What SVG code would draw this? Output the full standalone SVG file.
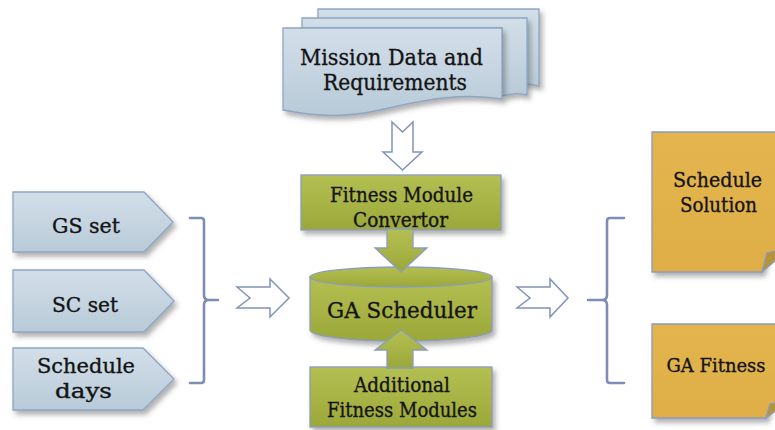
<svg xmlns="http://www.w3.org/2000/svg" width="775" height="430" viewBox="0 0 775 430">
<defs>
<linearGradient id="gBlue" x1="0" y1="0" x2="0" y2="1">
<stop offset="0" stop-color="#d2dfe9"/><stop offset="1" stop-color="#b8cad8"/>
</linearGradient>
<linearGradient id="gGreen" x1="0" y1="0" x2="0" y2="1">
<stop offset="0" stop-color="#b3bf52"/><stop offset="0.5" stop-color="#a8b445"/><stop offset="1" stop-color="#9aa739"/>
</linearGradient>
<linearGradient id="gGold" x1="0" y1="0" x2="0" y2="1">
<stop offset="0" stop-color="#e4b54f"/><stop offset="1" stop-color="#dfae46"/>
</linearGradient>
<filter id="sh" x="-10%" y="-10%" width="125%" height="135%">
<feDropShadow dx="3" dy="4" stdDeviation="2.5" flood-color="#555" flood-opacity="0.45"/>
</filter>
</defs>
<style>
.blue{fill:url(#gBlue);stroke:#8ea5c3;stroke-width:1.3}
.green{fill:url(#gGreen);stroke:#8c9cbf;stroke-width:1.3}
.gold{fill:url(#gGold);stroke:#8a9ac0;stroke-width:1.3}
.fold{fill:#b59337;stroke:#8a9ac0;stroke-width:1.2}
.open{fill:#ffffff;stroke:#8093ba;stroke-width:1.5}
.brace{fill:none;stroke:#7d8db5;stroke-width:2.6;stroke-linecap:round;stroke-linejoin:round}
text{font-family:"DejaVu Serif","Liberation Serif",serif;fill:#141414;stroke:#141414;stroke-width:0.35;text-anchor:middle}
.t{font-size:20.5px}
.s{font-size:19px}
.big{font-size:23px}
</style>
<rect width="775" height="430" fill="#ffffff"/>

<g id="mission">
<path class="blue" filter="url(#sh)" d="M318,9 H539 V86 C520,82 525,84 518,85 V30 H318 Z"/>
<path class="blue" filter="url(#sh)" d="M302,18 H527 V95 C518,93 515,93 502,96 V28 H302 Z"/>
<path class="blue" filter="url(#sh)" d="M283,28 H502 V99 C465,93 430,98 380,110 C340,119 310,115 283,110 Z"/>
<text class="big" x="391.5" y="65" textLength="183" lengthAdjust="spacingAndGlyphs">Mission Data and</text>
<text class="big" x="395" y="90" textLength="144" lengthAdjust="spacingAndGlyphs">Requirements</text>
</g>

<g id="gs-set">
<polygon class="blue" filter="url(#sh)" points="13,192 144,192 173,222 144,252 13,252"/>
<text class="t" x="86" y="233" textLength="68" lengthAdjust="spacingAndGlyphs">GS set</text>
</g>
<g id="sc-set">
<polygon class="blue" filter="url(#sh)" points="13,270 144,270 174,301 144,332 13,332"/>
<text class="t" x="85" y="312" textLength="66" lengthAdjust="spacingAndGlyphs">SC set</text>
</g>
<g id="schedule-days">
<polygon class="blue" filter="url(#sh)" points="13,348 143,348 174,379 143,410 13,410"/>
<text class="t" x="86" y="373" textLength="98" lengthAdjust="spacingAndGlyphs">Schedule</text>
<text class="t" x="83.5" y="398" textLength="57" lengthAdjust="spacingAndGlyphs">days</text>
</g>

<g id="fitness-convertor">
<rect class="green" filter="url(#sh)" x="301" y="175" width="200" height="55"/>
<text class="t" x="401.5" y="202" textLength="143" lengthAdjust="spacingAndGlyphs">Fitness Module</text>
<text class="t" x="400.5" y="227" textLength="95" lengthAdjust="spacingAndGlyphs">Convertor</text>
</g>

<g id="ga-scheduler">
<path class="green" filter="url(#sh)" d="M310,277 V330 A91,11 0 0 0 492,330 V277 Z"/>
<ellipse class="green" cx="401" cy="277" rx="91" ry="10"/>
<text class="big" x="402" y="318" textLength="150" lengthAdjust="spacingAndGlyphs">GA Scheduler</text>
</g>

<g id="additional-fitness">
<rect class="green" filter="url(#sh)" x="310" y="367" width="182" height="60"/>
<text class="t" x="402" y="392" textLength="96" lengthAdjust="spacingAndGlyphs">Additional</text>
<text class="t" x="402" y="417" textLength="150" lengthAdjust="spacingAndGlyphs">Fitness Modules</text>
</g>

<g id="schedule-solution">
<path class="gold" filter="url(#sh)" d="M652,132 H790 V248 L767,253 L762,272 H652 Z"/>
<polygon class="fold" points="762,272 767,253 790,248"/>
<text class="t" x="717.5" y="187" textLength="89" lengthAdjust="spacingAndGlyphs">Schedule</text>
<text class="t" x="718.5" y="212" textLength="77" lengthAdjust="spacingAndGlyphs">Solution</text>
</g>

<g id="ga-fitness">
<path class="gold" filter="url(#sh)" d="M652,324 H790 V400 L770,404 L766,418 H652 Z"/>
<polygon class="fold" points="766,418 770,404 790,400"/>
<text class="s" x="716" y="372" textLength="99" lengthAdjust="spacingAndGlyphs">GA Fitness</text>
</g>

<g id="connectors">
<polygon class="open" points="392,122 402.5,132 413,122 413,152 422,152 402.5,170 383,152 392,152"/>
<polygon class="open" points="237,287 250,298 237,308 270,308 270,317 289,298 270,279 270,287"/>
<polygon class="open" points="517,287 530,298 517,308 550,308 550,317 568,298 550,279 550,287"/>
<polygon class="green" points="387,229 413,229 413,248 427,248 401,272 375,248 387,248"/>
<polygon class="green" points="387,368 413,368 413,350 427,350 401,330 375,350 387,350"/>
<path class="brace" d="M190,218 H201 Q204,218 204,221 V295 Q204,300 209,300 H218 M209,300 Q204,300 204,305 V380 Q204,383 201,383 H190"/>
<path class="brace" d="M624,218 H610 Q607,218 607,221 V295 Q607,300 602,300 H588 M602,300 Q607,300 607,305 V380 Q607,383 610,383 H624"/>
</g>
</svg>
